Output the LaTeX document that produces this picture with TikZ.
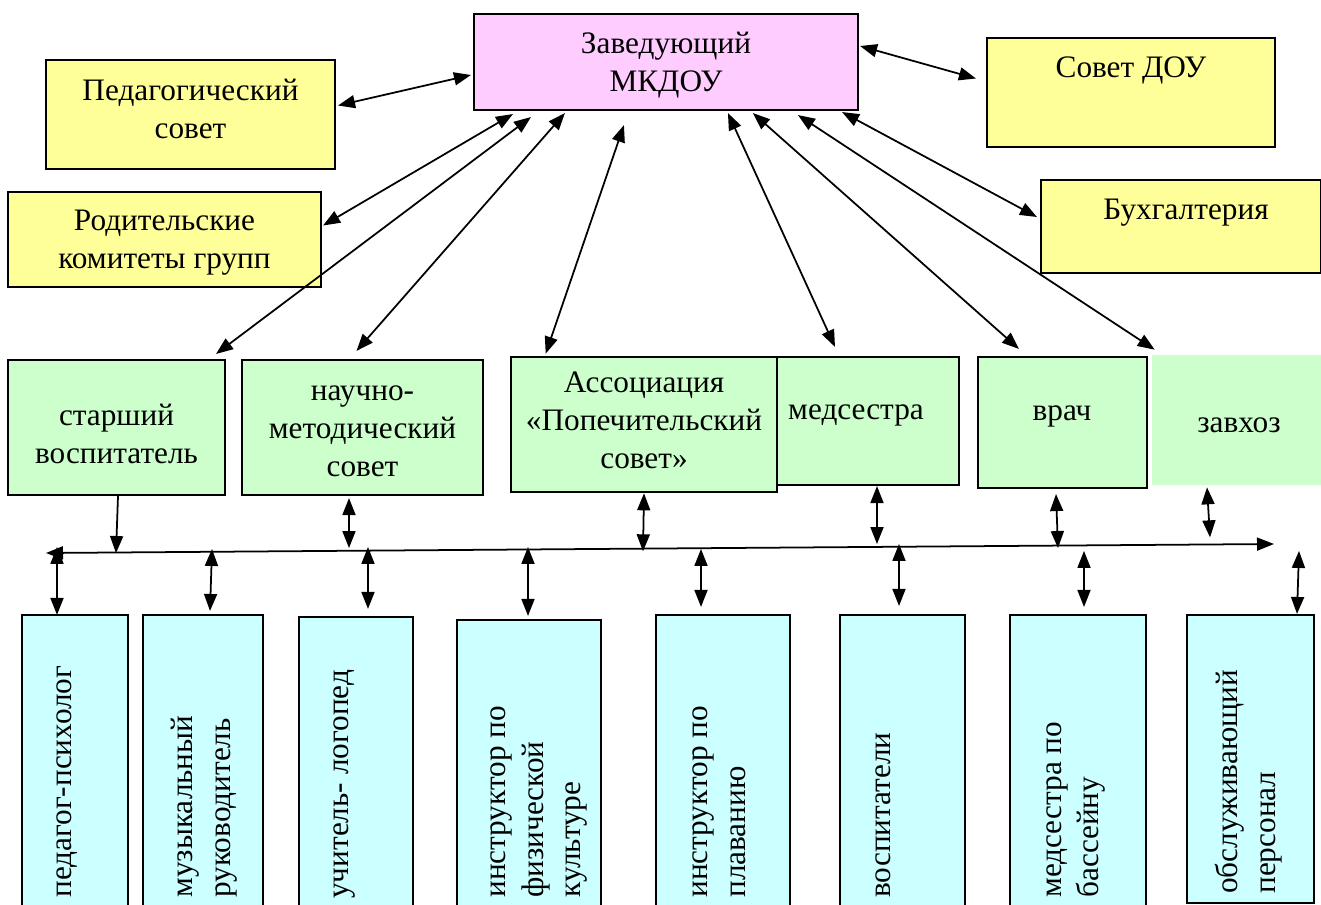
\documentclass[tikz,border=0pt]{standalone}
\usepackage{fontspec}
\setmainfont{Liberation Serif}
\usetikzlibrary{arrows.meta}
\definecolor{pinkfill}{HTML}{FFCCFF}
\definecolor{yellowfill}{HTML}{FFFF99}
\definecolor{greenfill}{HTML}{CCFFCC}
\definecolor{cyanfill}{HTML}{CCFFFF}

\begin{document}
\begin{tikzpicture}[x=0.02cm, y=-0.02cm,
    every node/.style={font=\fontsize{17.8}{21.6}\selectfont, inner sep=0pt, align=center},
    wh/.style 2 args={minimum width=#1*0.02cm, minimum height=#2*0.02cm},
    box/.style={draw=black, line width=1.2pt},
    link/.style={line width=1pt, {Triangle[length=0.34cm,width=0.26cm]}-{Triangle[length=0.34cm,width=0.26cm]}},
    down/.style={line width=1pt, -{Triangle[length=0.34cm,width=0.26cm]}},
    vtext/.style={rotate=90, anchor=west, align=left}]
        \useasboundingbox (0,0) rectangle (1321,905);

        % Head
        \node[box, fill=pinkfill, wh={384}{96}] (zav) at (666,62) {};
        \node (zavtxt) at (666,65) {Заведующий\\МКДОУ};

        % Councils and services
        \node[box, fill=yellowfill, wh={289}{109}] (ped) at (190.5,114.5) {};
        \node (pedtxt) at (190.5,109) {Педагогический\\совет};
        \node[box, fill=yellowfill, wh={313}{95}] (rod) at (164.5,239.5) {};
        \node (rodtxt) at (164.5,243) {Родительские\\комитеты групп};
        \node[box, fill=yellowfill, wh={288}{109}] (sovet) at (1131,92.5) {};
        \node (sovettxt) at (1131,70) {Совет ДОУ};
        \node[box, fill=yellowfill, wh={280}{93}] (buh) at (1181,226.5) {};
        \node (buhtxt) at (1186,213) {Бухгалтерия};

        % Middle row
        \node[box, fill=greenfill, wh={217}{135}] (star) at (116.5,427.5) {};
        \node (startxt) at (116.5,434) {старший\\воспитатель};
        \node[box, fill=greenfill, wh={241}{135}] (nauch) at (362.5,427.5) {};
        \node (nauchtxt) at (362.5,431) {научно-\\методический\\совет};
        \node[box, fill=greenfill, wh={182}{128}] (med) at (868,421) {};
        \node (medtxt) at (856,415) {медсестра};
        \node[box, fill=greenfill, line width=1.5pt, wh={266}{135}] (assoc) at (644,424.5) {};
        \node (assoctxt) at (644,420) {Ассоциация\\«Попечительский\\совет»};
        \node[box, fill=greenfill, wh={169}{131}] (vrach) at (1062.5,422.5) {};
        \node (vrachtxt) at (1062,416) {врач};
        \node[fill=greenfill, wh={169}{130}] (zavhoz) at (1236.5,420) {};
        \node (zavhoztxt) at (1239,425) {завхоз};

        % Staff
        \node[box, fill=cyanfill, wh={106}{300}] (b1) at (75,765) {};
        \node[box, fill=cyanfill, wh={120}{300}] (b2) at (203,765) {};
        \node[box, fill=cyanfill, wh={114}{298}] (b3) at (356,766) {};
        \node[box, fill=cyanfill, wh={144}{295}] (b4) at (529,767.5) {};
        \node[box, fill=cyanfill, wh={134}{300}] (b5) at (723,765) {};
        \node[box, fill=cyanfill, wh={125}{300}] (b6) at (902.5,765) {};
        \node[box, fill=cyanfill, wh={136}{300}] (b7) at (1078,765) {};
        \node[box, fill=cyanfill, wh={127}{288}] (b8) at (1250.5,759) {};

        \node[vtext] (t1) at (67,898) {педагог-психолог};
        \node[vtext] (t2) at (204,898) {музыкальный\\руководитель};
        \node[vtext] (t3) at (345,899) {учитель- логопед};
        \node[vtext] (t4) at (539,898) {инструктор по\\физической\\культуре};
        \node[vtext] (t5) at (719,898) {инструктор по\\плаванию};
        \node[vtext] (t6) at (883,898) {воспитатели};
        \node[vtext] (t7) at (1076,898) {медсестра по\\бассейну};
        \node[vtext] (t8) at (1249,894) {обслуживающий\\персонал};

        % Links from the head
        \draw[link] ([shift={(2,-9)}]ped.east) -- ([shift={(-2,13)}]zav.west);
        \draw[link] ([shift={(1,-16)}]zav.east) -- ([shift={(-10,-14)}]sovet.west);
        \draw[link] ([shift={(40,3)}]zav.south west) -- ([shift={(1,-14)}]rod.east);
        \draw[link] ([shift={(58,6)}]zav.south west) -- ([shift={(-10,-5)}]star.north east);
        \draw[link] ([shift={(92,2)}]zav.south west) -- ([shift={(-6,-8)}]nauch.north);
        \draw[link] ([shift={(151,14)}]zav.south west) -- ([shift={(36,-2)}]assoc.north west);
        \draw[link] ([shift={(255,2)}]zav.south west) -- ([shift={(-33,-9)}]med.north);
        \draw[link] ([shift={(280,2)}]zav.south west) -- ([shift={(42,-7)}]vrach.north west);
        \draw[link] ([shift={(325,4)}]zav.south west) -- ([shift={(3,-5)}]zavhoz.north west);
        \draw[link] ([shift={(-17,1)}]zav.south east) -- ([shift={(-3,-9.5)}]buh.west);

        % Common line
        \coordinate (busL) at (46,553);
        \coordinate (busR) at (1274,544);
        \draw[link] (busL) -- (busR);

        % Middle row to the line
        \draw[down] ([shift={(1.5,0)}]star.south) -- ++(-2,57);
        \draw[link] ([shift={(-13.5,2)}]nauch.south) -- ++(0,50);
        \draw[link] (assoc.south) -- ++(-1,58);
        \draw[link] ([shift={(9,0)}]med.south) -- ++(0,58);
        \draw[link] ([shift={(-6.5,5)}]vrach.south) -- ++(2,54);
        \draw[link] ([shift={(-29.5,2)}]zavhoz.south) -- ++(3,50);

        % Line to the staff
        \draw[link] ([shift={(-18,1)}]b1.north) -- ++(0,-68);
        \draw[link] ([shift={(7,-3)}]b2.north) -- ++(2,-62);
        \draw[link] ([shift={(12,-7)}]b3.north) -- ++(0,-62);
        \draw[link] ([shift={(-1,-3)}]b4.north) -- ++(0,-69);
        \draw[link] ([shift={(-22,-7)}]b5.north) -- ++(0,-58);
        \draw[link] ([shift={(-3.5,-8)}]b6.north) -- ++(0,-62);
        \draw[link] ([shift={(6,-7)}]b7.north) -- ++(0,-56);
        \draw[link] ([shift={(46.5,0)}]b8.north) -- ++(2,-63);
\end{tikzpicture}
\end{document}
